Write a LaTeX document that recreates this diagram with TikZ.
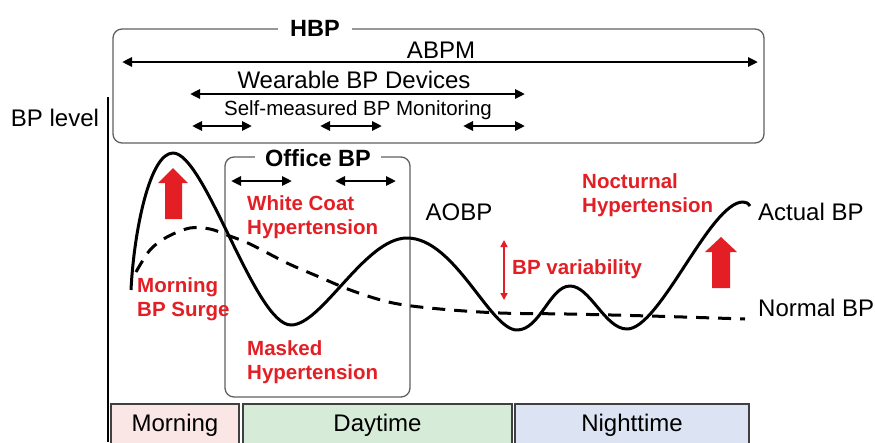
\documentclass[tikz,border=0pt]{standalone}
\usepackage{fontspec}
\setmainfont{Liberation Sans}
\usepackage{tikz}
\usetikzlibrary{arrows.meta}
\definecolor{bpred}{RGB}{227,30,36}
\definecolor{morncol}{RGB}{251,230,230}
\definecolor{daycol}{RGB}{214,236,216}
\definecolor{nightcol}{RGB}{220,228,243}
\definecolor{boxgray}{RGB}{95,95,95}

\begin{document}
\begin{tikzpicture}[x=1pt,y=-1pt,
  >={Triangle[length=10pt,width=9pt]},
  txt/.style={font=\fontsize{24}{28}\selectfont, inner sep=0pt},
  smalltxt/.style={font=\fontsize{20.5}{24}\selectfont, inner sep=0pt},
  redtxt/.style={font=\fontsize{20.5}{24}\selectfont\bfseries, text=bpred, align=left, inner sep=0pt},
  boxtitle/.style={font=\fontsize{23.5}{28}\selectfont\bfseries, fill=white, inner ysep=2pt},
  spanarrow/.style={<->, line width=2.5pt},
  roundbox/.style={draw=boxgray, line width=1.3pt, rounded corners=9pt},
  periodbox/.style={draw=black!75, line width=1.5pt, minimum height=42pt, font=\fontsize{24}{28}\selectfont},
  bpcurve/.style={line width=3pt, line join=round}]

\useasboundingbox (0,0) rectangle (875,442);

% HBP box
\draw[roundbox] (113,29) rectangle (764,143);
\node (hbp) at (315,28) [boxtitle, inner xsep=12pt] {HBP};

\coordinate (abpmL) at (122,62);
\coordinate (abpmR) at (758,62);
\draw[spanarrow] (abpmL) -- (abpmR);
\node (abpm) at (441,50) [txt] {ABPM};

\coordinate (wearL) at (190,94);
\coordinate (wearR) at (525,94);
\draw[spanarrow] (wearL) -- (wearR);
\node (wear) at (354,80) [txt] {Wearable BP Devices};

\node (smbp) at (358,110) [smalltxt] {Self-measured BP Monitoring};
\foreach \n/\a/\b in {sa/192/252, sb/320/382, sc/463/525}{
  \coordinate (\n L) at (\a,126);
  \coordinate (\n R) at (\b,126);
  \draw[spanarrow] (\n L) -- (\n R);
}

% axis
\node (bplevel) at (55,118) [txt] {BP level};
\coordinate (axtop) at (108,97);
\coordinate (axbot) at (108,442);
\draw[line width=1.3pt] (axtop) -- (axbot);

% Office BP box
\draw[roundbox] (225,157) rectangle (410,397);
\node (office) at (318,158) [boxtitle, inner xsep=10pt] {Office BP};
\foreach \n/\a/\b in {oa/231/292, ob/335/396}{
  \coordinate (\n L) at (\a,181);
  \coordinate (\n R) at (\b,181);
  \draw[spanarrow] (\n L) -- (\n R);
}

% curves
\draw[bpcurve, dash pattern=on 13pt off 9pt] plot[smooth, tension=0.55] coordinates {
  (136,272) (150,250) (167,237) (190,228) (210,229) (227,235) (250,244)
  (287,263) (317,276) (353,291) (393,303) (440,309) (500,313) (567,314)
  (650,316) (745,319)};
\draw[bpcurve] (131,290) .. controls (134,230) and (150,153) .. (173,153)
  .. controls (205,153) and (255,325) .. (291,325)
  .. controls (322,325) and (365,238) .. (407,238)
  .. controls (455,238) and (490,330) .. (517,330)
  .. controls (540,330) and (550,286) .. (570,286)
  .. controls (590,286) and (605,329) .. (627,329)
  .. controls (660,329) and (710,202) .. (743,202)
  .. controls (746,202) and (748,203) .. (750,206);

% red arrows
\fill[bpred] (165,219) -- (165,183) -- (158,183) -- (173,168) -- (188,183) -- (182,183) -- (182,219) -- cycle;
\fill[bpred] (712,288) -- (712,252) -- (705,252) -- (721,237) -- (737,252) -- (730,252) -- (730,288) -- cycle;
\coordinate (varT) at (504,240);
\coordinate (varB) at (504,300);
\draw[bpred, line width=1.6pt, {Triangle[length=7pt,width=7pt]}-{Triangle[length=7pt,width=7pt]}] (varT) -- (varB);

% labels
\node (wcoat) at (247,217) [redtxt, anchor=west] {White Coat\\Hypertension};
\node (masked) at (247,362) [redtxt, anchor=west] {Masked\\Hypertension};
\node (surge) at (137,299) [redtxt, anchor=west] {Morning\\BP Surge};
\node (noct) at (582,195) [redtxt, anchor=west] {Nocturnal\\Hypertension};
\node (bpvar) at (512,269) [redtxt, anchor=west] {BP variability};
\node (aobp) at (459,212) [txt] {AOBP};
\node (actual) at (758,212) [txt, anchor=west] {Actual BP};
\node (normal) at (758,308) [txt, anchor=west] {Normal BP};

% periods
\node (morning) at (175,425) [periodbox, fill=morncol, minimum width=128pt] {Morning};
\node (daytime) at (377.5,425) [periodbox, fill=daycol, minimum width=269pt] {Daytime};
\node (nighttime) at (632,425) [periodbox, fill=nightcol, minimum width=234pt] {Nighttime};

\end{tikzpicture}
\end{document}
